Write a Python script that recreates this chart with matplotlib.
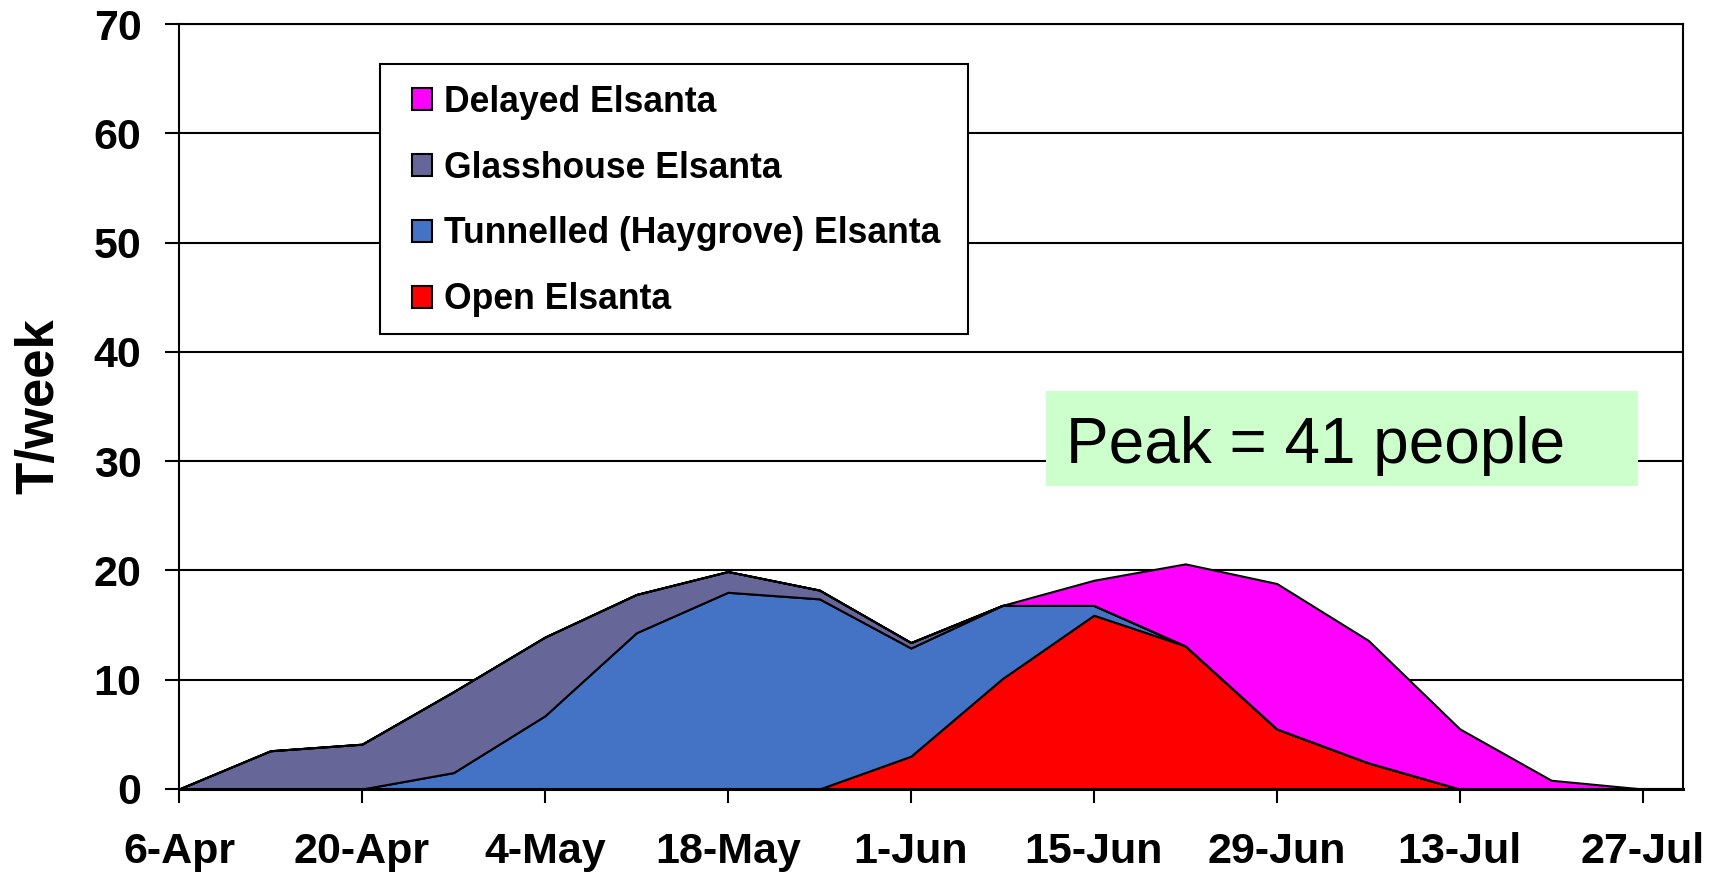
import matplotlib
matplotlib.use("Agg")
import matplotlib.pyplot as plt
from matplotlib.patches import Rectangle
import numpy as np

plt.rcParams['font.family'] = ['Liberation Sans', 'DejaVu Sans']

weeks = ["6-Apr", "13-Apr", "20-Apr", "27-Apr", "4-May", "11-May", "18-May", "25-May",
         "1-Jun", "8-Jun", "15-Jun", "22-Jun", "29-Jun", "6-Jul", "13-Jul", "20-Jul", "27-Jul"]
open_elsanta = [0, 0, 0, 0, 0, 0, 0, 0, 3.0, 10.1, 15.9, 13.1, 5.5, 2.4, 0, 0, 0]
tunnelled_elsanta = [0, 0, 0, 1.5, 6.7, 14.3, 18.0, 17.4, 9.9, 6.7, 0.9, 0, 0, 0, 0, 0, 0]
glasshouse_elsanta = [0, 3.5, 4.1, 7.4, 7.2, 3.5, 1.9, 0.8, 0.5, 0, 0, 0, 0, 0, 0, 0, 0]
delayed_elsanta = [0, 0, 0, 0, 0, 0, 0, 0, 0, 0, 2.3, 7.5, 13.3, 11.2, 5.5, 0.8, 0]
series_labels = ["Open Elsanta", "Tunnelled (Haygrove) Elsanta", "Glasshouse Elsanta", "Delayed Elsanta"]
series_colors = ["#FF0000", "#4472C4", "#666699", "#FF00FF"]
y_label = "T/week"
note_text = "Peak = 41 people"

fig = plt.figure(figsize=(17.21, 8.74), dpi=100)
ax = fig.add_axes([179/1721, 1 - 789/874, (1683-179)/1721, (789-24)/874])

x = np.arange(len(weeks))
polys = ax.stackplot(x, open_elsanta, tunnelled_elsanta, glasshouse_elsanta, delayed_elsanta,
                     colors=series_colors, labels=series_labels,
                     edgecolor="black", linewidth=1.5, zorder=3)

ax.set_xlim(0, 16.44)
ax.set_ylim(0, 70)
ax.set_yticks(np.arange(0, 71, 10))
ax.set_xticks(x[::2])
ax.set_xticklabels(weeks[::2])
ax.yaxis.grid(True, color="black", linewidth=1.5, zorder=0)
ax.set_axisbelow(True)
for s in ax.spines.values():
    s.set_linewidth(1.5)
    s.set_color("black")
    s.set_zorder(4)
ax.spines['bottom'].set_linewidth(2.2)

ax.tick_params(axis='both', direction='out', length=10, width=1.5, labelsize=31)
ax.tick_params(axis='x', pad=21)
ax.tick_params(axis='y', pad=17)
for lab in ax.get_xticklabels() + ax.get_yticklabels():
    lab.set_fontweight('bold')

ax.set_ylabel(y_label, fontsize=38, fontweight='bold')
ax.yaxis.set_label_coords(-0.0765, 0.5)

# legend frame drawn separately so padding matches
ax.add_patch(Rectangle((0.1336, 0.5948), 0.5246 - 0.1336, 0.948 - 0.5948,
                       transform=ax.transAxes, facecolor="white", edgecolor="black",
                       linewidth=1.5, zorder=5))
handles = list(polys)[::-1]
labels = series_labels[::-1]
leg = ax.legend(handles, labels, loc='upper left', bbox_to_anchor=(0.1547, 0.9208),
                borderaxespad=0, prop={'weight': 'bold', 'size': 25.6},
                handlelength=0.56, handleheight=0.56, handletextpad=0.34,
                labelspacing=0.87, borderpad=0, frameon=False)
leg.set_zorder(6)

ax.add_patch(Rectangle((0.5765, 0.396), 0.970 - 0.5765, 0.520 - 0.396,
                       transform=ax.transAxes, facecolor="#CCFFCC", edgecolor="none", zorder=5))
ax.text(0.590, 0.426, note_text, transform=ax.transAxes, fontsize=46,
        ha='left', va='baseline', color="black", zorder=6)

fig.savefig("out.png", dpi=100)
